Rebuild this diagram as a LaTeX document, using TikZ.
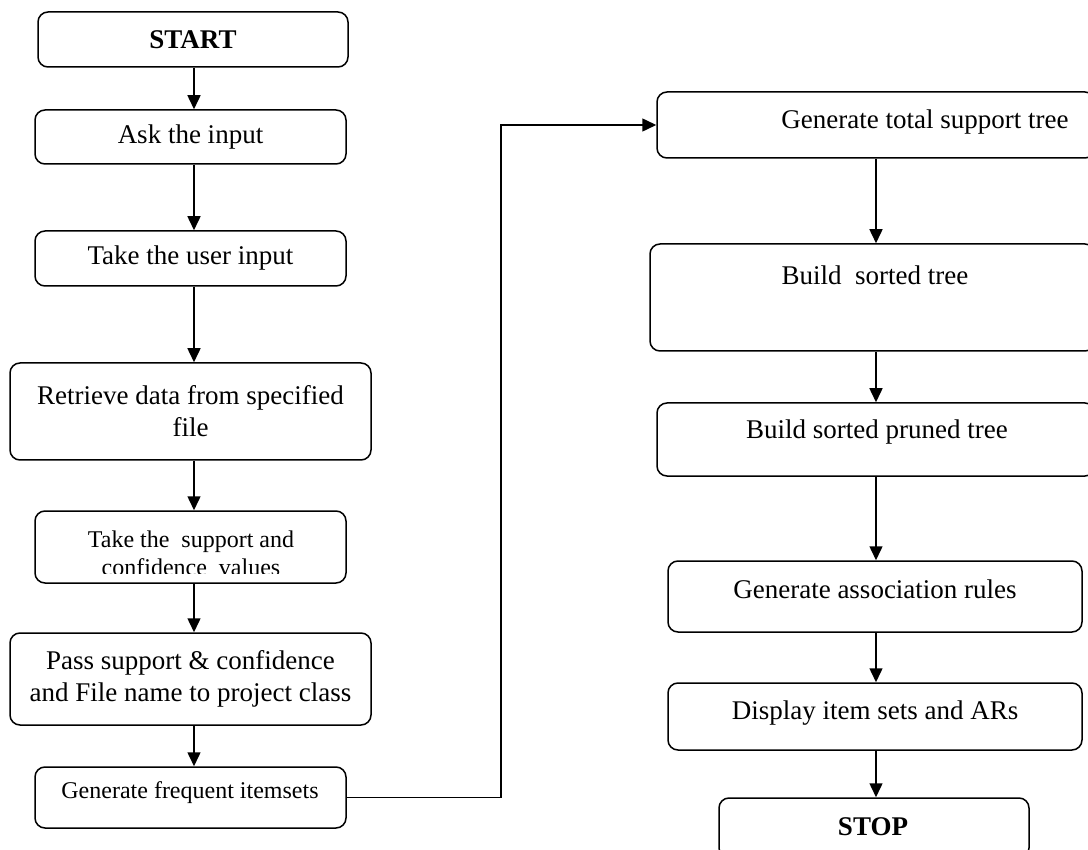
\documentclass[tikz,border=0pt]{standalone}
\usepackage{fontspec}
\setmainfont{Liberation Serif}
\usetikzlibrary{arrows.meta}
\begin{document}
\begin{tikzpicture}[x=1pt,y=-1pt,
  box/.style={draw, line width=1.5pt, rounded corners=10pt, inner sep=0pt, align=center,
              font=\fontsize{27}{32}\selectfont},
  txt/.style={inner sep=0pt, align=center, font=\fontsize{27}{32}\selectfont},
  small/.style={font=\fontsize{24}{28}\selectfont},
  arr/.style={line width=1.5pt, -{Triangle[length=14pt,width=13pt]}}]
\useasboundingbox (0,0) rectangle (1088,850);
\clip (0,0) rectangle (1088,850);
\coordinate (colL) at (194,0);
\coordinate (colR) at (876,0);
\coordinate (bend) at (501,0);
% left column
\node[box, minimum width=310, minimum height=55] (start) at (193,39.5) {\textbf{START}};
\node[box, minimum width=311, minimum height=54] (ask) at (190.5,137) {Ask the input};
\node[box, minimum width=311, minimum height=55] (user) at (190.5,258.5) {Take the user input};
\node[box, minimum width=361, minimum height=97] (retr) at (190.5,411.5) {Retrieve data from specified\\file};
\node[box, minimum width=311, minimum height=72] (supp) at (190.5,547) {};
\begin{scope}
\clip (35,511) rectangle (346,573);
\node[txt, small] (supp-t) at (191,553) {Take the\ \ support and\\confidence\ \ values};
\end{scope}
\node[box, minimum width=361, minimum height=92] (pass) at (190.5,679) {Pass support \& confidence\\and File name to project class};
\node[box, small, minimum width=311, minimum height=61] (freq) at (190.5,797.5) {};
\node[txt, small] (freq-t) at (190,793) {Generate frequent itemsets};
% right column
\node[box, minimum width=438, minimum height=66] (total) at (876,125) {};
\node[txt] (total-t) at (925,122) {Generate total support tree};
\node[box, minimum width=445, minimum height=107] (sorted) at (872.5,297.5) {};
\node[txt] (sorted-t) at (875,275) {Build\ \ sorted tree};
\node[box, minimum width=438, minimum height=73] (pruned) at (876,439.5) {};
\node[txt] (pruned-t) at (877,432) {Build sorted pruned tree};
\node[box, minimum width=414, minimum height=71] (assoc) at (875,596.5) {};
\node[txt] (assoc-t) at (875,589) {Generate association rules};
\node[box, minimum width=414, minimum height=67] (disp) at (875,716.5) {};
\node[txt] (disp-t) at (875,713) {Display item sets and ARs};
\node[box, minimum width=310, minimum height=60] (stop) at (874,828) {};
\node[txt] (stop-t) at (873,827) {\textbf{STOP}};
% connectors left
\draw[arr] (start.south -| colL) -- (ask.north -| colL);
\draw[arr] (ask.south -| colL) -- (user.north -| colL);
\draw[arr] (user.south -| colL) -- (retr.north -| colL);
\draw[arr] (retr.south -| colL) -- (supp.north -| colL);
\draw[arr] (supp.south -| colL) -- (pass.north -| colL);
\draw[arr] (pass.south -| colL) -- (freq.north -| colL);
% cross connector
\draw[arr] (freq.east) -- (freq.east -| bend) -- (total.west -| bend) -- (total.west);
% connectors right
\draw[arr] (total.south -| colR) -- (sorted.north -| colR);
\draw[arr] (sorted.south -| colR) -- (pruned.north -| colR);
\draw[arr] (pruned.south -| colR) -- (assoc.north -| colR);
\draw[arr] (assoc.south -| colR) -- (disp.north -| colR);
\draw[arr] (disp.south -| colR) -- (stop.north -| colR);
\end{tikzpicture}
\end{document}
